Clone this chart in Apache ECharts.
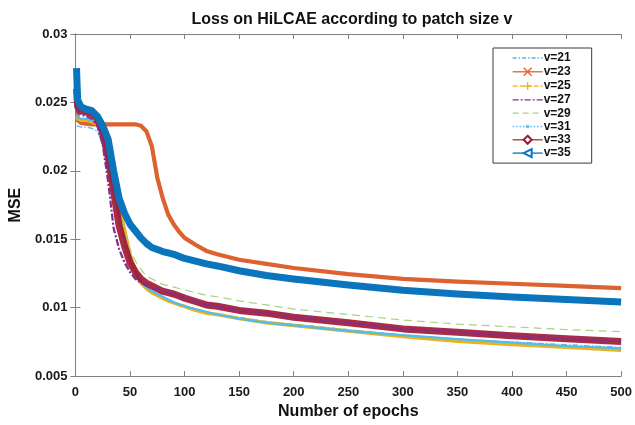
<!DOCTYPE html>
<html>
<head>
<meta charset="utf-8">
<script src="https://cdn.jsdelivr.net/npm/echarts@6/dist/echarts.min.js"></script>
<style>
  html, body { margin: 0; padding: 0; background: #fff; }
  #chart { width: 635px; height: 425px; }
</style>
</head>
<body>
<div id="chart"></div>
<script>
var epochs = [1, 2, 5, 10, 15, 20, 25, 30, 35, 40, 45, 50, 55, 60, 65, 70, 75, 80, 85, 90, 95, 100,
              110, 120, 130, 150, 175, 200, 250, 300, 350, 400, 450, 500];

var v21 = [0.0233, 0.0232, 0.0232, 0.0232, 0.0231, 0.0229, 0.0220, 0.0202, 0.0182, 0.0162, 0.0146, 0.0133,
           0.0124, 0.0118, 0.0114, 0.0112, 0.0110, 0.0108, 0.0106, 0.0104, 0.01025, 0.0101,
           0.0099, 0.0097, 0.0095, 0.0093, 0.0090, 0.0088, 0.0084, 0.0080, 0.0077, 0.0075, 0.0073, 0.0071];
var v23 = [0.0258, 0.0237, 0.0235, 0.02345, 0.0234, 0.0234, 0.0234, 0.0234, 0.0234, 0.0234, 0.0234, 0.0234,
           0.0234, 0.0233, 0.0229, 0.0218, 0.0195, 0.0180, 0.0168, 0.0161, 0.01555, 0.0151,
           0.0146, 0.01415, 0.0139, 0.0135, 0.0132, 0.0129, 0.01245, 0.0121, 0.0119, 0.01175, 0.0116, 0.01143];
var v25 = [0.0240, 0.0238, 0.0237, 0.0237, 0.0236, 0.0234, 0.0227, 0.0213, 0.0195, 0.0175, 0.0157, 0.0139,
           0.0127, 0.0118, 0.0114, 0.0111, 0.0109, 0.0107, 0.0105, 0.01035, 0.0102, 0.0101,
           0.0098, 0.0096, 0.0095, 0.0092, 0.0089, 0.0087, 0.0083, 0.0079, 0.00755, 0.0073, 0.0071, 0.00688];
var v27 = [0.0245, 0.0243, 0.0241, 0.0240, 0.0238, 0.0233, 0.0219, 0.0192, 0.0158, 0.0143, 0.0133, 0.0126,
           0.0121, 0.0118, 0.01165, 0.0115, 0.01135, 0.0112, 0.0111, 0.0110, 0.01085, 0.0107,
           0.01045, 0.0102, 0.0101, 0.0098, 0.0096, 0.0093, 0.0089, 0.00845, 0.0082, 0.00795, 0.00773, 0.00753];
var v29 = [0.0248, 0.0244, 0.0242, 0.0241, 0.0240, 0.0236, 0.0226, 0.0210, 0.0190, 0.0170, 0.0155, 0.0143,
           0.0134, 0.0128, 0.0123, 0.0121, 0.0119, 0.0117, 0.0116, 0.0115, 0.0114, 0.0113,
           0.0111, 0.0109, 0.0108, 0.0105, 0.0102, 0.0099, 0.0095, 0.0091, 0.0088, 0.0086, 0.0084, 0.00825];
var v31 = [0.0241, 0.0239, 0.0238, 0.0238, 0.0237, 0.0234, 0.0225, 0.0207, 0.0186, 0.0166, 0.0149, 0.0135,
           0.0126, 0.0119, 0.0115, 0.0112, 0.0110, 0.0108, 0.0106, 0.0104, 0.01025, 0.0101,
           0.0099, 0.0097, 0.0095, 0.0092, 0.0089, 0.0087, 0.0083, 0.0080, 0.0077, 0.00745, 0.0072, 0.00702];
var v33 = [0.0260, 0.0247, 0.0244, 0.0243, 0.0242, 0.0238, 0.0228, 0.0210, 0.0185, 0.0160, 0.0145, 0.0133,
           0.0126, 0.0121, 0.0118, 0.0116, 0.0114, 0.0112, 0.0111, 0.0110, 0.01085, 0.0107,
           0.01045, 0.0102, 0.0101, 0.0098, 0.0096, 0.0093, 0.0089, 0.00845, 0.0082, 0.00795, 0.00773, 0.00753];
var v35 = [0.0275, 0.0252, 0.0247, 0.0245, 0.0244, 0.0240, 0.0233, 0.0223, 0.0200, 0.0180, 0.0169, 0.0161,
           0.0156, 0.0151, 0.0147, 0.0144, 0.01425, 0.0141, 0.0140, 0.0139, 0.01375, 0.0136,
           0.0134, 0.0132, 0.01305, 0.0127, 0.01235, 0.0121, 0.01165, 0.01128, 0.0110, 0.01078, 0.0106, 0.01042];

var names = ['v=21', 'v=23', 'v=25', 'v=27', 'v=29', 'v=31', 'v=33', 'v=35'];
var values = [v21, v23, v25, v27, v29, v31, v33, v35];
var xTicks = [0, 500, 50];
var yTicks = [0.005, 0.03, 0.005];

var colors  = ['#5db3e8', '#dd6230', '#edb120', '#7e2f8e', '#a5d57f', '#4dbeee', '#a2142f', '#0a74bd'];
var widths  = [1.2, 4.2, 3.5, 2.2, 1.2, 2.2, 7, 7];
var types   = [[6, 2, 1.5, 2], 'solid', 'solid', [7, 2, 2, 2], [8, 5], 'solid', 'solid', 'solid'];
var legTypes = [[4, 2, 1.5, 2], 'solid', [5, 2], [6, 2, 2, 2], [6, 4], [1.5, 2], 'solid', 'solid'];
// the dot for v=31 sits in a larger empty box so it stays small in the legend
var symbols = ['none', 'path://M0,0L10,10M10,0L0,10', 'path://M5,0L5,10M0,5L10,5', 'none', 'none',
               'path://M0,0L0,0M20,20L20,20M7,7L13,7L13,13L7,13Z',
               'emptyDiamond', 'emptyTriangle'];

var font = 'Arial, "Liberation Sans", Helvetica, sans-serif';

function pairs(xs, ys) {
  var out = [];
  for (var i = 0; i < xs.length; i++) out.push([xs[i], ys[i]]);
  return out;
}

var series = [];
var legendData = [];
for (var i = 0; i < names.length; i++) {
  series.push({
    name: names[i],
    type: 'line',
    data: pairs(epochs, values[i]),
    showSymbol: false,
    symbol: symbols[i],
    symbolRotate: i == 7 ? 90 : 0,
    z: i == 3 ? 5 : 2,
    lineStyle: { color: colors[i], width: widths[i], type: types[i], opacity: i == 6 ? 0.9 : 1, join: 'round' },
    itemStyle: { color: colors[i] }
  });

  var legItem = {
    name: names[i],
    lineStyle: { width: 1.3, type: legTypes[i], color: colors[i] }
  };
  if (symbols[i] == 'none') legItem.itemStyle = { opacity: 0 };
  else if (i == 1 || i == 2)
    legItem.itemStyle = { color: 'none', borderColor: colors[i], borderWidth: 1.3 };
  else if (i == 5)
    legItem.itemStyle = { color: colors[i], borderColor: colors[i], borderWidth: 0.5 };
  legendData.push(legItem);
}

var axisGray = '#808080';
var labelStyle = { color: '#1a1a1a', fontWeight: 'bold', fontSize: 13, fontFamily: font };

var option = {
  backgroundColor: '#ffffff',
  animation: false,
  title: {
    text: 'Loss on HiLCAE according to patch size v',
    left: 347, textAlign: 'center', top: 7,
    textStyle: { fontSize: 16, fontWeight: 'bold', color: '#111', fontFamily: font }
  },
  grid: { left: 72, right: 12, top: 34, bottom: 46 },
  legend: {
    orient: 'vertical',
    left: 493, top: 48,
    backgroundColor: '#fff',
    borderColor: '#3a3a3a', borderWidth: 1,
    padding: [4, 21, 4, 19],
    itemWidth: 30, itemHeight: 10, itemGap: 1.3,
    textStyle: { fontWeight: 'bold', fontSize: 12, color: '#111', fontFamily: font, padding: [0, 0, 0, -4] },
    data: legendData
  },
  xAxis: [{
    type: 'value', min: xTicks[0], max: xTicks[1], interval: xTicks[2],
    name: 'Number of epochs', nameLocation: 'middle', nameGap: 26,
    nameTextStyle: { fontSize: 16, fontWeight: 'bold', color: '#111', fontFamily: font },
    axisLine: { lineStyle: { color: axisGray } },
    axisTick: { inside: true, length: 5, lineStyle: { color: axisGray } },
    axisLabel: Object.assign({ margin: 10 }, labelStyle),
    splitLine: { show: false }
  }, {
    type: 'value', position: 'top', min: xTicks[0], max: xTicks[1], interval: xTicks[2],
    axisLine: { lineStyle: { color: axisGray } },
    axisTick: { inside: true, length: 5, lineStyle: { color: axisGray } },
    axisLabel: { show: false },
    splitLine: { show: false }
  }],
  yAxis: [{
    type: 'value', min: yTicks[0], max: yTicks[1], interval: yTicks[2],
    name: 'MSE', nameLocation: 'middle', nameGap: 44, nameRotate: 90,
    nameTextStyle: { fontSize: 16, fontWeight: 'bold', color: '#111', fontFamily: font },
    axisLine: { show: true, lineStyle: { color: axisGray } },
    axisTick: { show: true, inside: true, length: 5, lineStyle: { color: axisGray } },
    axisLabel: Object.assign({
      margin: 8,
      formatter: function (v) { return String(parseFloat(v.toFixed(4))); }
    }, labelStyle),
    splitLine: { show: false }
  }, {
    type: 'value', position: 'right', min: yTicks[0], max: yTicks[1], interval: yTicks[2],
    axisLine: { show: true, lineStyle: { color: axisGray } },
    axisTick: { show: true, inside: true, length: 5, lineStyle: { color: axisGray } },
    axisLabel: { show: false },
    splitLine: { show: false }
  }],
  series: series
};

var myChart = echarts.init(document.getElementById('chart'));
myChart.setOption(option);
</script>
</body>
</html>
